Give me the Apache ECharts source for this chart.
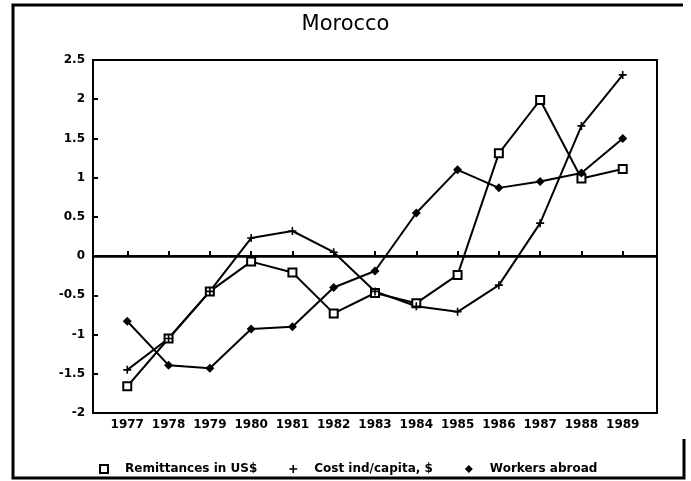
<!DOCTYPE html>
<html>
<head>
<meta charset="utf-8">
<script src="https://cdn.jsdelivr.net/npm/echarts@6/dist/echarts.min.js"></script>
<style>
  html, body { margin: 0; padding: 0; background: #fff; }
  #main { width: 691px; height: 481px; }
</style>
</head>
<body>
<div id="main"></div>
<script>
var years = [1977, 1978, 1979, 1980, 1981, 1982, 1983, 1984, 1985, 1986, 1987, 1988, 1989];
var remittances = [-1.66, -1.05, -0.45, -0.07, -0.21, -0.73, -0.47, -0.6, -0.24, 1.31, 1.99, 0.99, 1.11];
var costPerCapita = [-1.45, -1.05, -0.45, 0.23, 0.32, 0.05, -0.45, -0.64, -0.71, -0.37, 0.42, 1.66, 2.31];
var workersAbroad = [-0.83, -1.39, -1.43, -0.93, -0.9, -0.4, -0.19, 0.55, 1.1, 0.87, 0.95, 1.06, 1.5];
var seriesNames = ['Remittances in US$', 'Cost ind/capita, $', 'Workers abroad'];

var font = 'DejaVu Sans';
var plus = 'path://M4,0H6V4H10V6H6V10H4V6H0V4H4Z';

function pairs(vals) {
  return years.map(function (y, i) { return [y, vals[i]]; });
}

var chart = echarts.init(document.getElementById('main'), null, { renderer: 'canvas' });

var option = {
  backgroundColor: '#fff',
  animation: false,
  title: {
    text: 'Morocco',
    left: 'center',
    top: 9,
    textStyle: { fontFamily: font, fontSize: 21, fontWeight: 'normal', color: '#000' }
  },
  // outer frame of the scanned page
  graphic: [
    { type: 'polyline', shape: { points: [[683, 5], [13, 5], [13, 478], [684, 478], [684, 439]] },
      style: { stroke: '#000', lineWidth: 3, fill: null } }
  ],
  legend: {
    left: 94,
    top: 458,
    itemWidth: 8,
    itemHeight: 8,
    itemGap: 32,
    textStyle: { fontFamily: font, fontSize: 12, fontWeight: 'bold', color: '#000', padding: [0, 0, 0, 12] },
    data: [
      { name: seriesNames[0], icon: 'rect', itemStyle: { color: '#fff', borderColor: '#000', borderWidth: 2 } },
      { name: seriesNames[1], icon: plus, itemStyle: { color: '#000' } },
      { name: seriesNames[2], icon: 'diamond', itemStyle: { color: '#000' } }
    ]
  },
  grid: {
    left: 93, right: 34, top: 60, bottom: 68,
    show: true, borderColor: '#000', borderWidth: 2
  },
  xAxis: {
    type: 'value',
    min: 1976.17,
    max: 1989.83,
    splitLine: { show: false },
    axisLine: { lineStyle: { color: '#000', width: 2 } },
    axisTick: { inside: true, length: 5, customValues: years, lineStyle: { color: '#000', width: 2 } },
    axisLabel: {
      customValues: years,
      formatter: function (v) { return String(v); },
      margin: 6,
      fontFamily: font, fontSize: 12, fontWeight: 'bold', color: '#000'
    }
  },
  yAxis: {
    type: 'value',
    min: -2,
    max: 2.5,
    interval: 0.5,
    splitLine: { show: false },
    axisLine: { show: true, lineStyle: { color: '#000', width: 2 } },
    axisTick: { show: true, inside: true, length: 5, lineStyle: { color: '#000', width: 2 } },
    axisLabel: { margin: 8, fontFamily: font, fontSize: 12, fontWeight: 'bold', color: '#000' }
  },
  series: [
    {
      name: seriesNames[0],
      type: 'line',
      data: pairs(remittances),
      symbol: 'rect',
      symbolSize: 8,
      lineStyle: { color: '#000', width: 2 },
      itemStyle: { color: '#fff', borderColor: '#000', borderWidth: 2 },
      markLine: {
        silent: true,
        symbol: ['none', 'none'],
        label: { show: false },
        lineStyle: { color: '#000', width: 2.5, type: 'solid' },
        data: [{ yAxis: 0 }]
      }
    },
    {
      name: seriesNames[1],
      type: 'line',
      data: pairs(costPerCapita),
      symbol: plus,
      symbolSize: 8,
      lineStyle: { color: '#000', width: 2 },
      itemStyle: { color: '#000' }
    },
    {
      name: seriesNames[2],
      type: 'line',
      data: pairs(workersAbroad),
      symbol: 'diamond',
      symbolSize: 9,
      lineStyle: { color: '#000', width: 2 },
      itemStyle: { color: '#000' }
    }
  ]
};

chart.setOption(option);
</script>
</body>
</html>
